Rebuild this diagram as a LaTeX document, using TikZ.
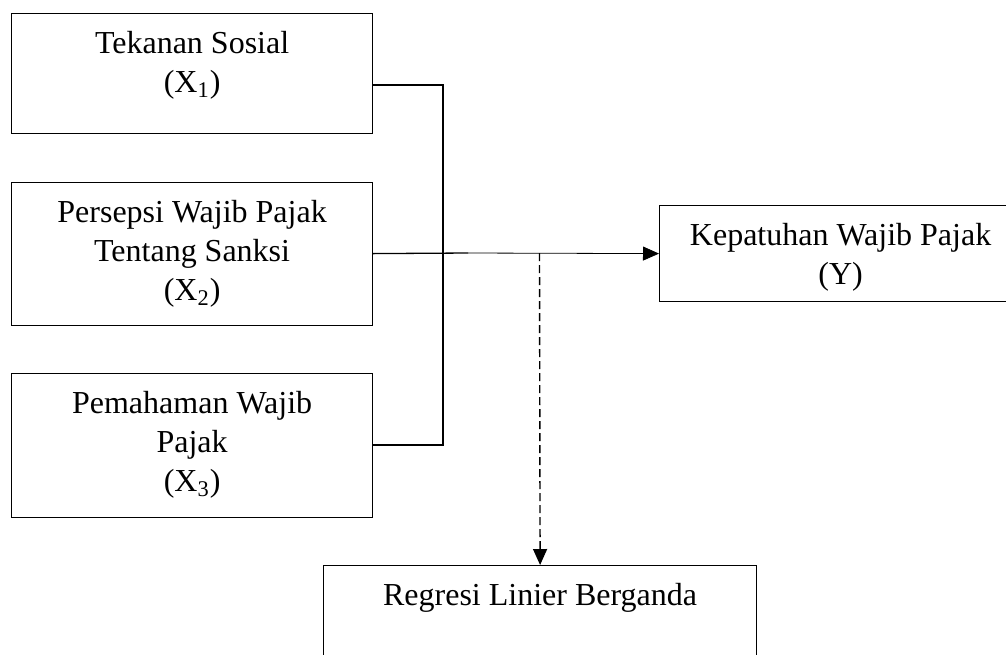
\documentclass[tikz,border=0pt]{standalone}
\usepackage{fontspec}
\setmainfont{Liberation Serif}
\usetikzlibrary{arrows.meta}

\tikzset{kotak/.style={draw,line width=0.6pt,anchor=north west,inner sep=0pt},
teks/.style={align=center,anchor=north,inner sep=0pt,font=\fontsize{16}{19.5}\selectfont},
garis/.style={line width=0.65pt}}

\begin{document}
\begin{tikzpicture}[x=0.5pt,y=-0.5pt]
\path[use as bounding box,clip] (0,0) rectangle (1006,654);
\foreach \n/\y/\h in {x1/13/60pt,x2/181.5/71.5pt,x3/373/72pt}
\node (\n)[kotak,minimum width=180.5pt,minimum height=\h] at (11,\y) {};
\node (y)[kotak,minimum width=181pt,minimum height=48pt] at (659,205) {};
\node (reg)[kotak,minimum width=216.5pt,minimum height=60pt] at (323,565) {};
\node (t1)[teks] at ([yshift=-9pt]x1.north) {Tekanan Sosial\\(X\textsubscript{1})};
\node (t2)[teks] at ([yshift=-9pt]x2.north) {Persepsi Wajib Pajak\\Tentang Sanksi\\(X\textsubscript{2})};
\node (t3)[teks] at ([yshift=-9pt]x3.north) {Pemahaman Wajib\\Pajak\\(X\textsubscript{3})};
\node (ty)[teks] at ([yshift=-9pt]y.north) {Kepatuhan Wajib Pajak\\(Y)};
\node (treg)[teks] at ([yshift=-9pt]reg.north) {Regresi Linier Berganda};
\coordinate (b1) at (443,85);
\coordinate (b3) at (443,445);
\coordinate (jn) at (468,253);
\coordinate (sp) at (539.5,253);
\draw[garis] (x1.east |- b1) -- (b1) -- (b3) -- (x3.east |- b3);
\draw[garis] (x2.east) -- (jn);
\draw[line width=0.4pt,-{Triangle[length=8pt,width=7pt]}] (jn) -- (y.west);
\draw[line width=0.7pt,dash pattern=on 4pt off 2pt,-{Triangle[length=8pt,width=7pt]}] (sp) -- (reg.north);
\end{tikzpicture}
\end{document}
